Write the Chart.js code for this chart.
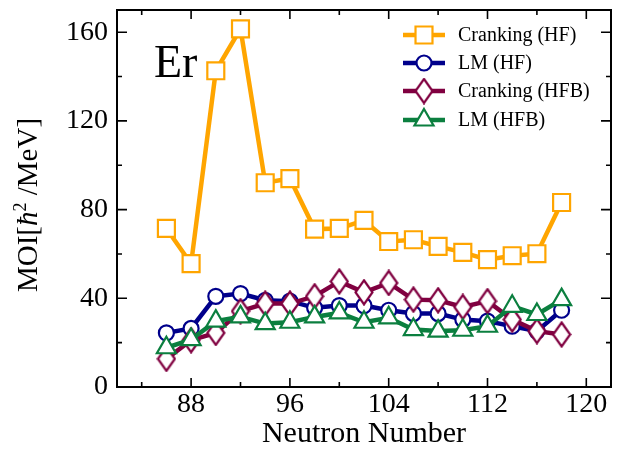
<!DOCTYPE html>
<html>
<head>
<meta charset="utf-8">
<script src="https://cdn.jsdelivr.net/npm/chart.js@4.4.1/dist/chart.umd.min.js"></script>
<style>
  html, body { margin: 0; padding: 0; background: #fff; }
  #wrap { width: 619px; height: 458px; position: relative; }
</style>
</head>
<body>
<div id="wrap"><canvas id="moi"></canvas></div>
<script>
// Neutron numbers (Er isotopes)
const neutrons = [86, 88, 90, 92, 94, 96, 98, 100, 102, 104, 106, 108, 110, 112, 114, 116, 118];

const crankingHF  = [71.5, 55.6, 142.6, 161.5, 92.1, 94.0, 71.2, 71.5, 75.1, 65.6, 66.4, 63.4, 60.7, 57.4, 59.2, 60.1, 83.2];
const lmHF        = [24.4, 26.4, 40.9, 42.1, 39.1, 38.7, 35.7, 36.7, 36.7, 34.6, 33.1, 33.1, 30.4, 29.7, 27.4, 25.2, 34.6];
const crankingHFB = [12.7, 21.1, 24.4, 34.2, 37.6, 37.6, 40.9, 47.6, 42.7, 46.9, 39.4, 39.1, 36.1, 38.7, 30.4, 25.2, 23.7];
const lmHFB       = [17.7, 21.4, 29.7, 31.6, 28.6, 29.2, 31.6, 33.4, 29.2, 31.2, 25.9, 25.2, 25.6, 27.4, 36.4, 32.7, 39.4];

const seriesNames = ['Cranking (HF)', 'LM (HF)', 'Cranking (HFB)', 'LM (HFB)'];

const xTicks = [88, 96, 104, 112, 120];
const xMinor = [84, 92, 100, 108, 116];
const yTicks = [0, 40, 80, 120, 160];
const yMinor = [20, 60, 100, 140];

const FONT = '"Liberation Serif", "DejaVu Serif", serif';

// tall diamond marker
function diamond(color) {
  const c = document.createElement('canvas');
  c.width = 20; c.height = 27;
  const g = c.getContext('2d');
  g.beginPath();
  g.moveTo(10, 1.5); g.lineTo(18.5, 13.5); g.lineTo(10, 25.5); g.lineTo(1.5, 13.5); g.closePath();
  g.fillStyle = '#fff'; g.fill();
  g.lineWidth = 2.2; g.strokeStyle = color; g.stroke();
  return c;
}

const pts = arr => neutrons.map((n, i) => ({ x: n, y: arr[i] }));

const datasets = [
  { label: seriesNames[0], data: pts(crankingHF), borderColor: '#FFA500', pointStyle: 'rect', pointRadius: 12, order: 4 },
  { label: seriesNames[1], data: pts(lmHF), borderColor: '#00008B', pointStyle: 'circle', pointRadius: 7.5, order: 3 },
  { label: seriesNames[2], data: pts(crankingHFB), borderColor: '#800040', pointStyle: diamond('#800040'), pointRadius: 10, order: 2 },
  { label: seriesNames[3], data: pts(lmHFB), borderColor: '#0B7F3F', pointStyle: 'triangle', pointRadius: 11, order: 1 },
].map(d => Object.assign({
  borderWidth: 4.5,
  pointBackgroundColor: '#fff',
  pointBorderColor: d.borderColor,
  pointBorderWidth: 2.2,
  tension: 0,
}, d));

// frame, inward ticks, "Er" label, y title and legend
const framePlugin = {
  id: 'frame',
  afterDraw(chart) {
    const { ctx, chartArea: a, scales: { x, y } } = chart;
    ctx.save();
    ctx.strokeStyle = '#000';
    ctx.lineWidth = 2;
    ctx.strokeRect(a.left, a.top, a.right - a.left, a.bottom - a.top);
    ctx.lineWidth = 1.6;
    ctx.beginPath();
    const xt = (v, len) => {
      const px = x.getPixelForValue(v);
      ctx.moveTo(px, a.bottom); ctx.lineTo(px, a.bottom - len);
      ctx.moveTo(px, a.top); ctx.lineTo(px, a.top + len);
    };
    const yt = (v, len) => {
      const py = y.getPixelForValue(v);
      ctx.moveTo(a.left, py); ctx.lineTo(a.left + len, py);
      ctx.moveTo(a.right, py); ctx.lineTo(a.right - len, py);
    };
    xTicks.forEach(v => xt(v, 9));
    xMinor.forEach(v => xt(v, 5));
    yTicks.forEach(v => yt(v, 10));
    yMinor.forEach(v => yt(v, 5));
    ctx.stroke();

    ctx.fillStyle = '#000';
    ctx.font = '46px ' + FONT;
    ctx.textBaseline = 'alphabetic';
    ctx.fillText('Er', 154, 77);

    // y axis title: MOI[ħ² /MeV]
    ctx.save();
    ctx.translate(37, 205);
    ctx.rotate(-Math.PI / 2);
    const parts = [
      { t: 'MOI[', f: '29px ' + FONT, dy: 0 },
      { t: 'ħ', f: 'italic 29px ' + FONT, dy: 0 },
      { t: '2', f: '18px ' + FONT, dy: -11 },
      { t: ' /MeV]', f: '29px ' + FONT, dy: 0 },
    ];
    let total = 0;
    parts.forEach(p => { ctx.font = p.f; p.w = ctx.measureText(p.t).width; total += p.w; });
    let cx = -total / 2;
    ctx.textBaseline = 'alphabetic';
    parts.forEach(p => { ctx.font = p.f; ctx.fillText(p.t, cx, p.dy); cx += p.w; });
    ctx.restore();

    // legend
    const rows = [35, 63, 91, 120];
    chart.data.datasets.forEach((ds, i) => {
      const ly = rows[i];
      ctx.strokeStyle = ds.borderColor;
      ctx.lineWidth = 4.5;
      ctx.beginPath();
      ctx.moveTo(403, ly); ctx.lineTo(445, ly);
      ctx.stroke();
      ctx.fillStyle = '#fff';
      ctx.lineWidth = ds.pointBorderWidth;
      ctx.strokeStyle = ds.pointBorderColor;
      Chart.helpers.drawPoint(ctx, { pointStyle: ds.pointStyle, radius: ds.pointRadius, borderWidth: ds.pointBorderWidth, rotation: 0 }, 424, ly);
      ctx.fillStyle = '#000';
      ctx.font = '20px ' + FONT;
      ctx.textBaseline = 'middle';
      ctx.fillText(ds.label, 458, ly + 1);
    });
    ctx.restore();
  }
};

new Chart(document.getElementById('moi'), {
  type: 'line',
  data: { datasets },
  plugins: [framePlugin],
  options: {
    responsive: true,
    maintainAspectRatio: false,
    animation: false,
    layout: { autoPadding: false, padding: { top: 10, right: 8, left: 0, bottom: 0 } },
    plugins: { legend: { display: false }, tooltip: { enabled: false } },
    scales: {
      x: {
        type: 'linear', min: 82, max: 122,
        afterBuildTicks: s => { s.ticks = xTicks.map(v => ({ value: v })); },
        afterFit: s => { s.height = 71; s.paddingLeft = 0; s.paddingRight = 0; },
        grid: { display: false, drawTicks: false },
        border: { display: false },
        ticks: { color: '#000', padding: 1, font: { family: FONT, size: 28 }, maxRotation: 0 },
        title: { display: true, text: 'Neutron Number', color: '#000', font: { family: FONT, size: 30 }, padding: { top: 0, bottom: 6 } },
      },
      y: {
        type: 'linear', min: 0, max: 170,
        afterBuildTicks: s => { s.ticks = yTicks.map(v => ({ value: v })); },
        afterFit: s => { s.width = 117; s.paddingTop = 0; s.paddingBottom = 0; },
        grid: { display: false, drawTicks: false },
        border: { display: false },
        ticks: { color: '#000', padding: 9, font: { family: FONT, size: 28 } },
      },
    },
  },
});
</script>
</body>
</html>
